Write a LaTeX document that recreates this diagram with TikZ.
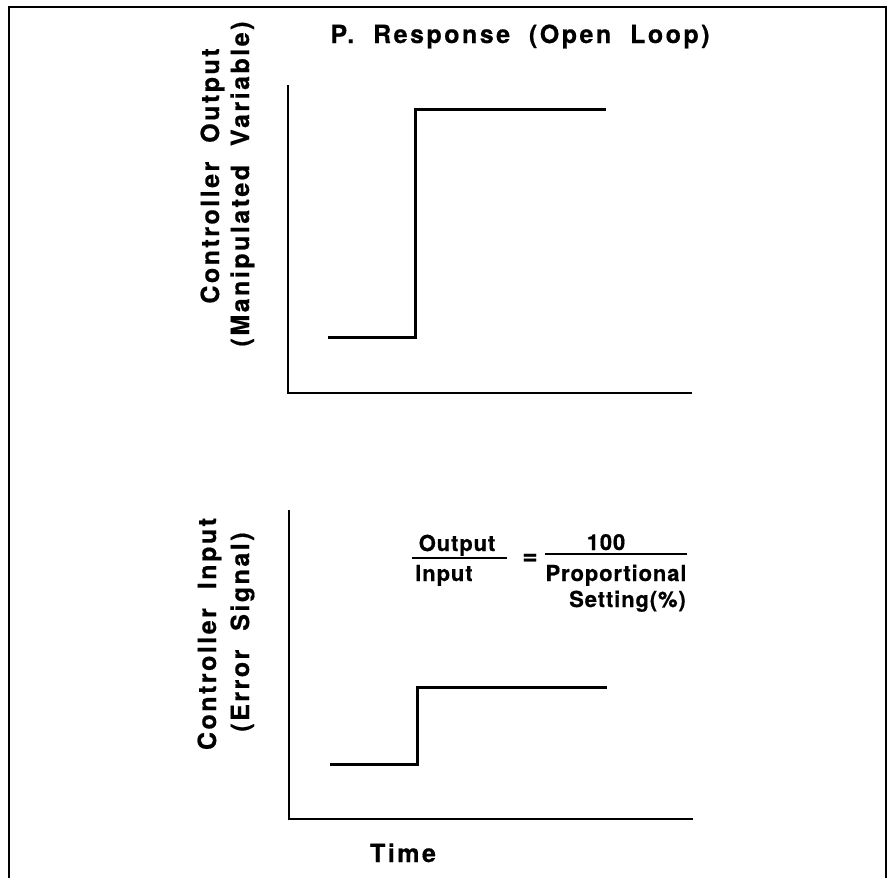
\documentclass[tikz,border=0pt]{standalone}
\usepackage{fontspec}
\setmainfont{TeX Gyre Heros}
\newfontfamily\lblfont{TeX Gyre Heros}[LetterSpace=10, FakeBold=0.6]
\newfontfamily\eqfont{TeX Gyre Heros}[LetterSpace=4, FakeBold=0.6]
\begin{document}
\begin{tikzpicture}[x=1pt,y=-1pt,
  lbl/.style={font=\lblfont\bfseries\fontsize{25}{29}\selectfont, inner sep=0pt},
  eqtxt/.style={font=\eqfont\bfseries\fontsize{22}{26}\selectfont, inner sep=0pt},
  eqsign/.style={font=\eqfont\bfseries\fontsize{26}{30}\selectfont, inner sep=0pt},
  axisline/.style={line width=1.5pt},
  sigline/.style={line width=3pt},
  barline/.style={line width=1.7pt},
  frameline/.style={line width=2.6pt}]
\useasboundingbox (0,0) rectangle (890,878);
% frame
\coordinate (fbl) at (9,878);
\coordinate (ftl) at (9,7);
\coordinate (ftr) at (886,7);
\coordinate (fbr) at (886,878);
\draw[frameline] (fbl) -- (ftl) -- (ftr) -- (fbr);
% title
\node[lbl, anchor=base] (title) at (520,43) {P.~~Response~~(Open~~Loop)};
% upper plot
\coordinate (ua) at (288,85);
\coordinate (uo) at (288,393);
\coordinate (ux) at (692,393);
\draw[axisline] (ua) -- (uo) -- (ux);
\coordinate (us1) at (328,337);
\coordinate (us2) at (415,337);
\coordinate (us3) at (415,109);
\coordinate (us4) at (606,109);
\draw[sigline] (us1) -- (us2) -- (us3) -- (us4);
\node[lbl, rotate=90, anchor=base] (ulab1) at (219,176) {Controller~~Output};
\node[lbl, rotate=90, anchor=base] (ulab2) at (249,184) {(Manipulated~~Variable)};
% lower plot
\coordinate (la) at (289,510);
\coordinate (lo) at (289,819);
\coordinate (lx) at (693,819);
\draw[axisline] (la) -- (lo) -- (lx);
\coordinate (ls1) at (330,764);
\coordinate (ls2) at (417,764);
\coordinate (ls3) at (417,687);
\coordinate (ls4) at (607,687);
\draw[sigline] (ls1) -- (ls2) -- (ls3) -- (ls4);
\node[lbl, rotate=90, anchor=base] (llab1) at (216,634) {Controller~~Input};
\node[lbl, rotate=90, anchor=base] (llab2) at (249,632) {(Error~~Signal)};
\node[lbl, anchor=base] (time) at (403,862) {Time};
% formula
\node[eqtxt, anchor=base] (fout) at (457,551) {Output};
\coordinate (b1l) at (412,558);
\coordinate (b1r) at (507,558);
\draw[barline] (b1l) -- (b1r);
\node[eqtxt, anchor=base west] (fin) at (415,581) {Input};
\node[eqsign] (feq) at (530,559) {=};
\node[eqtxt, anchor=base] (f100) at (606,550) {100};
\coordinate (b2l) at (545,554);
\coordinate (b2r) at (687,554);
\draw[barline] (b2l) -- (b2r);
\node[eqtxt, anchor=base] (fprop) at (616,581) {Proportional};
\node[eqtxt, anchor=base east] (fset) at (686,607) {Setting(\%)};
\end{tikzpicture}
\end{document}
